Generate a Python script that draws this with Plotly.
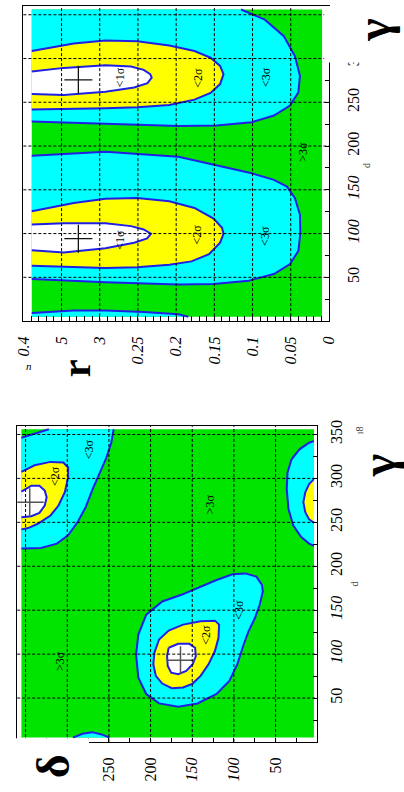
import plotly.graph_objects as go

W, H = 404, 792

# ---------------- TOP PANEL : r versus gamma ----------------
r_grid = [0.009, 0.389]          # extent of the scanned chi2 grid in r
gt_grid = [5, 356]               # extent in gamma

# <3 sigma region around gamma ~ 280
t_c3a_r = [0.115, 0.084, 0.059, 0.0446, 0.038, 0.040, 0.051, 0.072, 0.101, 0.147, 0.197, 0.251, 0.334, 0.389, 0.389]
t_c3a_g = [356, 344.4, 325.5, 302.8, 280.2, 261.3, 246.2, 234.9, 227.3, 223.6, 222.8, 224.4, 226.6, 228.1, 356]
# <2 sigma region around gamma ~ 280
t_c2a_r = [0.389, 0.334, 0.2925, 0.251, 0.209, 0.176, 0.155, 0.1425, 0.138, 0.1425, 0.155, 0.176, 0.209, 0.251, 0.2925, 0.334, 0.389]
t_c2a_g = [308.5, 317.2, 320.6, 319.8, 314.9, 308.5, 300.9, 291.5, 282.1, 270.8, 260.6, 253.0, 247.0, 244.3, 243.2, 242.5, 241.7]
# <1 sigma region around gamma ~ 280
t_c1a_r = [0.389, 0.347, 0.2925, 0.259, 0.2425, 0.234, 0.232, 0.2375, 0.255, 0.2925, 0.347, 0.389]
t_c1a_g = [285.1, 289.3, 292.3, 290.8, 287.0, 282.1, 278.3, 271.9, 267.0, 262.1, 258.3, 259.5]
# <3 sigma region around gamma ~ 100
t_c3b_r = [0.389, 0.2925, 0.197, 0.151, 0.101, 0.072, 0.055, 0.0446, 0.038, 0.0375, 0.040, 0.051, 0.072, 0.105, 0.151, 0.197, 0.2925, 0.389]
t_c3b_g = [188.8, 193.4, 187.7, 179.1, 168.9, 161.3, 153.7, 140.6, 121.7, 99.9, 80.2, 65.1, 53.8, 46.2, 42.5, 41.7, 44.4, 48.1]
# <2 sigma region around gamma ~ 100
t_c2b_r = [0.389, 0.334, 0.2925, 0.251, 0.209, 0.176, 0.151, 0.140, 0.138, 0.1425, 0.157, 0.180, 0.209, 0.251, 0.2925, 0.334, 0.389]
t_c2b_g = [125.4, 134.9, 139.8, 140.6, 136.8, 129.3, 117.2, 106.6, 99.8, 89.6, 76.4, 68.2, 64.3, 61.4, 60.6, 61.4, 63.2]
# <1 sigma region around gamma ~ 100
t_c1b_r = [0.389, 0.347, 0.2925, 0.259, 0.2425, 0.233, 0.238, 0.255, 0.2925, 0.347, 0.389]
t_c1b_g = [110.4, 111.9, 111.9, 108.5, 104.7, 99.8, 94.5, 89.6, 83.2, 78.3, 80.9]
# <3 sigma strip at gamma ~ 0
t_c3c_r = [0.389, 0.334, 0.2925, 0.2425, 0.197, 0.184, 0.389]
t_c3c_g = [9.3, 12.2, 12.2, 10.4, 7.7, 5, 5]

t_best_r = [0.328, 0.328]
t_best_g = [275.7, 94.2]

r_ticks = [0, 0.05, 0.1, 0.15, 0.2, 0.25, 0.3, 0.35, 0.4]
r_ticktext = ["0", "0.05", "0.1", "0.15", "0.2", "0.25", "3", "5", "0.4"]
g_ticks = [50, 100, 150, 200, 250, 300, 350]
gt_ticktext = ["50", "<i>100</i>", "<i>150</i>", "200", "250", "3\u00a0\u00a0\u00a0", ""]
g_ticktext = ["50", "<i>100</i>", "<i>150</i>", "200", "250", "300", "350"]

t_labels = [("<1σ", 0.274, 278.3), ("<2σ", 0.1725, 278.3), ("<3σ", 0.083, 278.3),
            ("<1σ", 0.273, 93.4), ("<2σ", 0.1725, 99.0), ("<3σ", 0.084, 97.1),
            (">3σ", 0.034, 193.4)]

# ---------------- BOTTOM PANEL : delta versus gamma ----------------
d_grid = [4, 355]
gb_grid = [5, 356]

b_c3B_d = [355, 322.0, 244.3, 247.2, 253.0, 260.7, 269.5, 277.9, 287.5, 299.0, 312.4, 331.6, 355]
b_c3B_g = [346.3, 356, 356, 340.6, 323.6, 306.7, 287.9, 267.2, 250.3, 235.3, 225.8, 220.9, 220.1]
b_c2B_d = [355, 339.2, 320.1, 304.7, 299.0, 299.0, 302.9, 310.5, 320.1, 335.4, 346.9, 355]
b_c2B_g = [307.5, 315.0, 318.8, 318.0, 312.4, 301.1, 284.2, 269.1, 257.8, 248.4, 243.5, 242.0]
b_c1B_d = [355, 343.1, 333.4, 327.0, 324.7, 327.0, 333.4, 343.1, 355]
b_c1B_g = [285.0, 291.7, 291.7, 286.1, 278.5, 269.1, 260.8, 257.0, 255.9]

b_c3C_d = [4, 9.8, 21.3, 30.8, 35.7, 36.6, 34.6, 28.9, 19.3, 9.8, 4]
b_c3C_g = [342.6, 340.6, 333.1, 321.8, 306.7, 287.9, 265.3, 246.6, 233.3, 225.8, 223.2]
b_c2C_d = [4, 9.8, 14.4, 16.7, 14.4, 9.8, 4]
b_c2C_g = [299.2, 293.5, 284.2, 272.9, 261.6, 253.3, 249.5]

b_c3A_d = [86.3, 73.0, 66.4, 65.3, 69.1, 74.8, 82.5, 88.3, 96.0, 105.5, 120.8, 143.8, 166.8, 189.8, 205.2, 214.7, 217.4, 214.7, 205.2, 186.0, 163.0, 140.0, 120.8, 101.7]
b_c3A_g = [191.9, 188.2, 178.8, 171.2, 156.2, 141.1, 126.0, 111.0, 88.4, 69.6, 54.6, 43.9, 40.2, 43.9, 54.6, 73.3, 99.7, 122.3, 144.9, 159.9, 167.5, 176.9, 184.4, 190.8]
b_c2A_d = [195.5, 189.8, 178.3, 161.0, 140.0, 122.8, 117.8, 118.5, 122.8, 130.5, 140.0, 149.5, 161.0, 174.5, 186.0, 193.7, 196.7]
b_c2A_g = [101.5, 116.7, 126.8, 133.6, 137.3, 138.1, 133.6, 118.5, 103.5, 88.4, 75.2, 66.5, 62.0, 61.3, 66.5, 75.2, 88.4]
b_c1A_d = [178.3, 166.8, 153.4, 146.6, 145.7, 149.5, 157.2, 166.8, 175.3, 179.4, 180.2]
b_c1A_g = [107.2, 111.7, 111.7, 107.2, 97.8, 88.4, 80.9, 77.1, 78.9, 86.5, 97.8]

b_c3D_d = [293.2, 281.7, 270.2, 258.7, 249.2]
b_c3D_g = [5, 9.4, 11.2, 8.6, 5]

b_best_d = [164.1, 345.0]
b_best_g = [93.0, 272.9]

d_ticks = [50, 100, 150, 200, 250, 300, 350]
d_ticktext = ["50", "<i>100</i>", "<i>150</i>", "200", "250", "300", "350"]

b_labels = [("<2σ", 314.4, 303.0), ("<3σ", 274.1, 333.1), (">3σ", 128.5, 270.9),
            ("<2σ", 134.3, 122.3), ("<3σ", 94.0, 150.5), (">3σ", 308.6, 92.2)]

# ---------------- styles ----------------
GREEN = "#00e400"
CYAN = "#00ffff"
YELLOW = "#ffff00"
WHITE = "#ffffff"
BLUE = "#1f1fe6"
SERIF = "Liberation Serif"


def contour_line(xs, ys, xg, yg):
    n = len(xs)
    pts = list(zip(xs, ys))

    def on(p):
        s = set()
        if p[0] in xg:
            s.add(("x", p[0]))
        if p[1] in yg:
            s.add(("y", p[1]))
        return s

    skip = [bool(on(pts[i]) & on(pts[(i + 1) % n])) for i in range(n)]
    if not any(skip):
        p = pts + [pts[0]]
        return [q[0] for q in p], [q[1] for q in p]
    s = (skip.index(True) + 1) % n
    lx, ly = [], []
    for k in range(n):
        i = (s + k) % n
        lx.append(pts[i][0]); ly.append(pts[i][1])
        if skip[i]:
            lx.append(None); ly.append(None)
    return lx, ly


fig = go.Figure()


def add_region(xs, ys, color, xg, yg, xa, ya):
    fig.add_trace(go.Scatter(x=xs, y=ys, fill="toself", fillcolor=color, mode="lines",
                             line=dict(width=0), xaxis=xa, yaxis=ya, hoverinfo="skip",
                             showlegend=False))
    lx, ly = contour_line(xs, ys, xg, yg)
    fig.add_trace(go.Scatter(x=lx, y=ly, mode="lines", line=dict(color=BLUE, width=2),
                             xaxis=xa, yaxis=ya, hoverinfo="skip", showlegend=False,
                             connectgaps=False))


# green background (>3 sigma) over the grid extent
fig.add_trace(go.Scatter(x=[r_grid[0], r_grid[1], r_grid[1], r_grid[0]],
                         y=[gt_grid[0], gt_grid[0], gt_grid[1], gt_grid[1]],
                         fill="toself", fillcolor=GREEN, mode="lines", line=dict(width=0),
                         xaxis="x", yaxis="y", hoverinfo="skip", showlegend=False))
fig.add_trace(go.Scatter(x=[d_grid[0], d_grid[1], d_grid[1], d_grid[0]],
                         y=[gb_grid[0], gb_grid[0], gb_grid[1], gb_grid[1]],
                         fill="toself", fillcolor=GREEN, mode="lines", line=dict(width=0),
                         xaxis="x2", yaxis="y2", hoverinfo="skip", showlegend=False))

for xs, ys, c in [(t_c3a_r, t_c3a_g, CYAN), (t_c3b_r, t_c3b_g, CYAN), (t_c3c_r, t_c3c_g, CYAN),
                  (t_c2a_r, t_c2a_g, YELLOW), (t_c2b_r, t_c2b_g, YELLOW),
                  (t_c1a_r, t_c1a_g, WHITE), (t_c1b_r, t_c1b_g, WHITE)]:
    add_region(xs, ys, c, r_grid, gt_grid, "x", "y")

for xs, ys, c in [(b_c3B_d, b_c3B_g, CYAN), (b_c3C_d, b_c3C_g, CYAN), (b_c3A_d, b_c3A_g, CYAN),
                  (b_c3D_d, b_c3D_g, CYAN),
                  (b_c2B_d, b_c2B_g, YELLOW), (b_c2C_d, b_c2C_g, YELLOW), (b_c2A_d, b_c2A_g, YELLOW),
                  (b_c1B_d, b_c1B_g, WHITE), (b_c1A_d, b_c1A_g, WHITE)]:
    add_region(xs, ys, c, d_grid, gb_grid, "x2", "y2")

fig.add_trace(go.Scatter(x=t_best_r, y=t_best_g, mode="markers", xaxis="x", yaxis="y",
                         marker=dict(symbol="cross-thin", size=20, line=dict(width=1.3, color="#111111")),
                         hoverinfo="skip", showlegend=False))
fig.add_trace(go.Scatter(x=b_best_d, y=b_best_g, mode="markers", xaxis="x2", yaxis="y2",
                         marker=dict(symbol="cross-thin", size=20, line=dict(width=1.5, color="#555555")),
                         hoverinfo="skip", showlegend=False))

tickfont = dict(family=SERIF, size=16, color="black")
common = dict(showline=True, mirror=True, linecolor="black", linewidth=1.2, showgrid=False,
              zeroline=False, ticks="inside", tickcolor="black", tickfont=tickfont,
              tickangle=-90, tickmode="array", fixedrange=True)

fig.update_layout(
    width=W, height=H, margin=dict(l=0, r=0, t=0, b=0),
    paper_bgcolor="white", plot_bgcolor="white", showlegend=False,
    xaxis=dict(domain=[15 / W, 334 / W], range=[0.4, 0], anchor="y", side="bottom",
               tickvals=r_ticks, ticktext=["<i>%s</i>" % t for t in r_ticktext], ticklen=5,
               ticklabelstandoff=8,
               minor=dict(ticks="inside", dtick=0.01, tick0=0, ticklen=5, tickcolor="black"),
               **common),
    yaxis=dict(domain=[1 - 317.5 / H, 1], range=[0, 360], anchor="x", side="right",
               tickvals=g_ticks, ticktext=gt_ticktext, ticklen=4, ticklabelstandoff=10,
               minor=dict(ticks="inside", dtick=25, tick0=0, ticklen=4, tickcolor="black"),
               **common),
    xaxis2=dict(domain=[8.6 / W, 321.8 / W], range=[360, 0], anchor="y2", side="bottom",
                tickvals=d_ticks, ticktext=d_ticktext, ticklen=4, ticklabelstandoff=8,
                minor=dict(ticks="inside", dtick=25, tick0=0, ticklen=4, tickcolor="black"),
                **common),
    yaxis2=dict(domain=[1 - 741.6 / H, 1 - 422.9 / H], range=[0, 360], anchor="x2", side="right",
                tickvals=g_ticks, ticktext=g_ticktext, ticklen=4, ticklabelstandoff=4,
                minor=dict(ticks="inside", dtick=25, tick0=0, ticklen=4, tickcolor="black"),
                **common),
)

# dashed grid drawn above the coloured regions
shapes = []
grid_line = dict(color="black", width=1, dash="3px,2px")
for v in r_ticks[1:-1]:
    shapes.append(dict(type="line", xref="x", yref="y domain", x0=v, x1=v, y0=0, y1=1,
                       line=grid_line, layer="above"))
for v in g_ticks:
    shapes.append(dict(type="line", xref="x domain", yref="y", x0=0, x1=1, y0=v, y1=v,
                       line=grid_line, layer="above"))
for v in d_ticks:
    shapes.append(dict(type="line", xref="x2", yref="y2 domain", x0=v, x1=v, y0=0, y1=1,
                       line=grid_line, layer="above"))
for v in g_ticks:
    shapes.append(dict(type="line", xref="x2 domain", yref="y2", x0=0, x1=1, y0=v, y1=v,
                       line=grid_line, layer="above"))
# scan crop edges (white)
shapes.append(dict(type="rect", xref="paper", yref="paper", x0=329 / W, x1=1,
                   y0=1 - 57 / H, y1=1, fillcolor="white", line=dict(width=0), layer="above"))
shapes.append(dict(type="rect", xref="paper", yref="paper", x0=0, x1=83.5 / W,
                   y0=0, y1=1 - 737.8 / H, fillcolor="white", line=dict(width=0), layer="above"))
fig.update_layout(shapes=shapes)

ann = []
lab_font = dict(family=SERIF, size=12, color="black")
for t, x, y in t_labels:
    ann.append(dict(text=t, x=x, y=y, xref="x", yref="y", showarrow=False, textangle=-90, font=lab_font))
for t, x, y in b_labels:
    ann.append(dict(text=t, x=x, y=y, xref="x2", yref="y2", showarrow=False, textangle=-90, font=lab_font))


def pa(text, px, py, size, angle=-90, color="black"):
    ann.append(dict(text=text, x=px / W, y=1 - py / H, xref="paper", yref="paper",
                    showarrow=False, textangle=angle, xanchor="center", yanchor="middle",
                    font=dict(family=SERIF, size=size, color=color)))


pa("<b>γ</b>", 381, 24, 48)
pa("<b>r</b>", 70, 365, 40)
pa("<i>n</i>", 21, 363, 11, angle=0)
pa("d", 374, 161, 10, color="#444444")
pa("<b>γ</b>", 386, 463, 48)
pa("<b>δ</b>", 46, 766, 46)
pa("d", 361, 582, 10, color="#444444")
pa("ı8", 366, 428, 10, color="#444444")
fig.update_layout(annotations=ann)

fig.write_html("out.html")
